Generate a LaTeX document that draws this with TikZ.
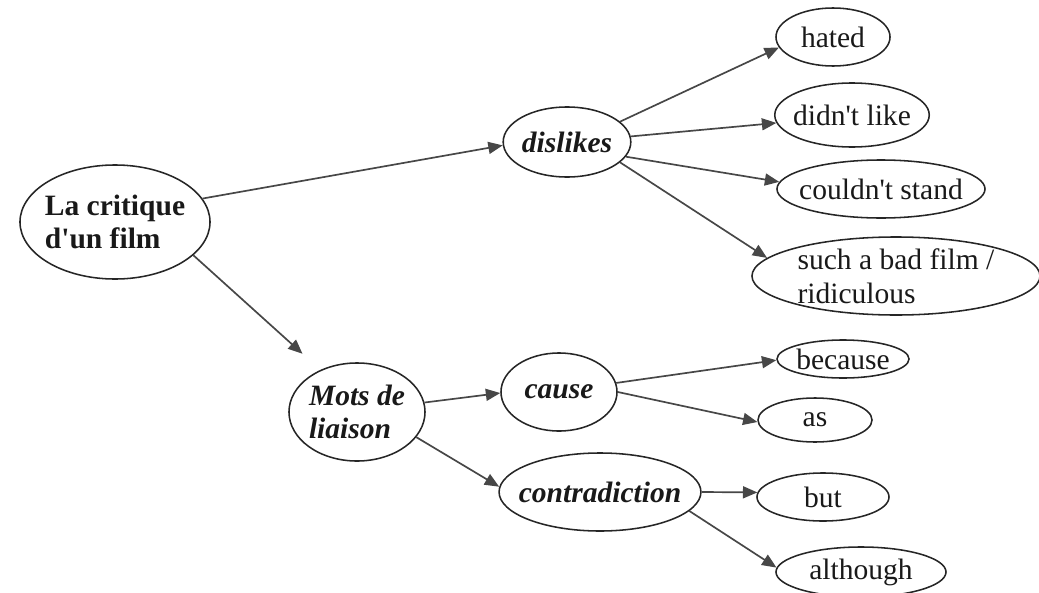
\documentclass[tikz,border=0pt]{standalone}
\usepackage{fontspec}
\setmainfont{Liberation Serif}
\usetikzlibrary{arrows.meta,shapes.geometric}

\begin{document}
\begin{tikzpicture}[x=0.025cm, y=-0.025cm,
  bubble/.style={ellipse, draw=black!85, line width=1.1pt, inner sep=0pt, text=black!90,
    font=\fontsize{21}{24}\selectfont},
  head/.style={font=\fontsize{21}{24}\selectfont\bfseries},
  kw/.style={font=\fontsize{21}{24}\selectfont\bfseries\itshape},
  link/.style={draw=black!72, line width=1.2pt, -{Triangle[length=3.6mm,width=3mm]}}]
\useasboundingbox (0,0) rectangle (1039,592);

% main topic
\node[bubble, head, align=left, minimum width=4.75cm, minimum height=2.85cm, inner xsep=-3pt] (critique) at (115,222) {La critique\\d\textquotesingle un film};

% dislikes branch
\node[bubble, kw, minimum width=3cm, minimum height=1.75cm] (dislikes) at (567,142) {dislikes};
\node[bubble, minimum width=2.85cm, minimum height=1.45cm] (hated) at (833,37) {hated};
\node[bubble, minimum width=3.8cm, minimum height=1.6cm, inner xsep=-3pt] (didntlike) at (852,115) {didn\textquotesingle t like};
\node[bubble, minimum width=5.2cm, minimum height=1.45cm, inner xsep=-6pt] (couldnt) at (881,189) {couldn\textquotesingle t stand};
\node[bubble, align=left, minimum width=7.2cm, minimum height=1.95cm, inner ysep=-3pt] (badfilm) at (896,276) {such a bad film /\\ridiculous};

% linking words branch
\node[bubble, kw, align=left, minimum width=3.4cm, minimum height=2.45cm, inner xsep=-1pt] (mots) at (357,412) {Mots de\\liaison};
\node[bubble, kw, minimum width=2.9cm, minimum height=1.95cm] (cause) at (559,392) {cause};
\node[bubble, kw, minimum width=5cm, minimum height=1.95cm, inner xsep=-7pt] (contra) at (600,492) {contradiction};
\node[bubble, minimum width=3.3cm, minimum height=0.95cm, inner xsep=-2pt, inner ysep=-2pt] (because) at (843,359) {because};
\node[bubble, minimum width=2.85cm, minimum height=1.1cm] (as) at (815,420) {as};
\node[bubble, minimum width=3.3cm, minimum height=1.2cm] (but) at (823,497) {but};
\node[bubble, minimum width=4.25cm, minimum height=1.25cm] (although) at (861,572) {although};

% arrows
\draw[link] (critique.15) -- (dislikes.183);
\draw[link, shorten >=0.6cm] (critique.337) -- (mots.131);

\draw[link] (dislikes.21) -- (hated.191);
\draw[link] (dislikes.5) -- (didntlike.186);
\draw[link] (dislikes.346) -- (couldnt.176);
\draw[link] (dislikes.339) -- (badfilm.172);

\draw[link] (mots.8) -- (cause.181);
\draw[link] (mots.337) -- (contra.177);

\draw[link] (cause.9) -- (because.181);
\draw[link] (cause.0) -- (as.182);
\draw[link] (contra.0) -- (but.176);
\draw[link] (contra.348) -- (although.177);
\end{tikzpicture}
\end{document}
